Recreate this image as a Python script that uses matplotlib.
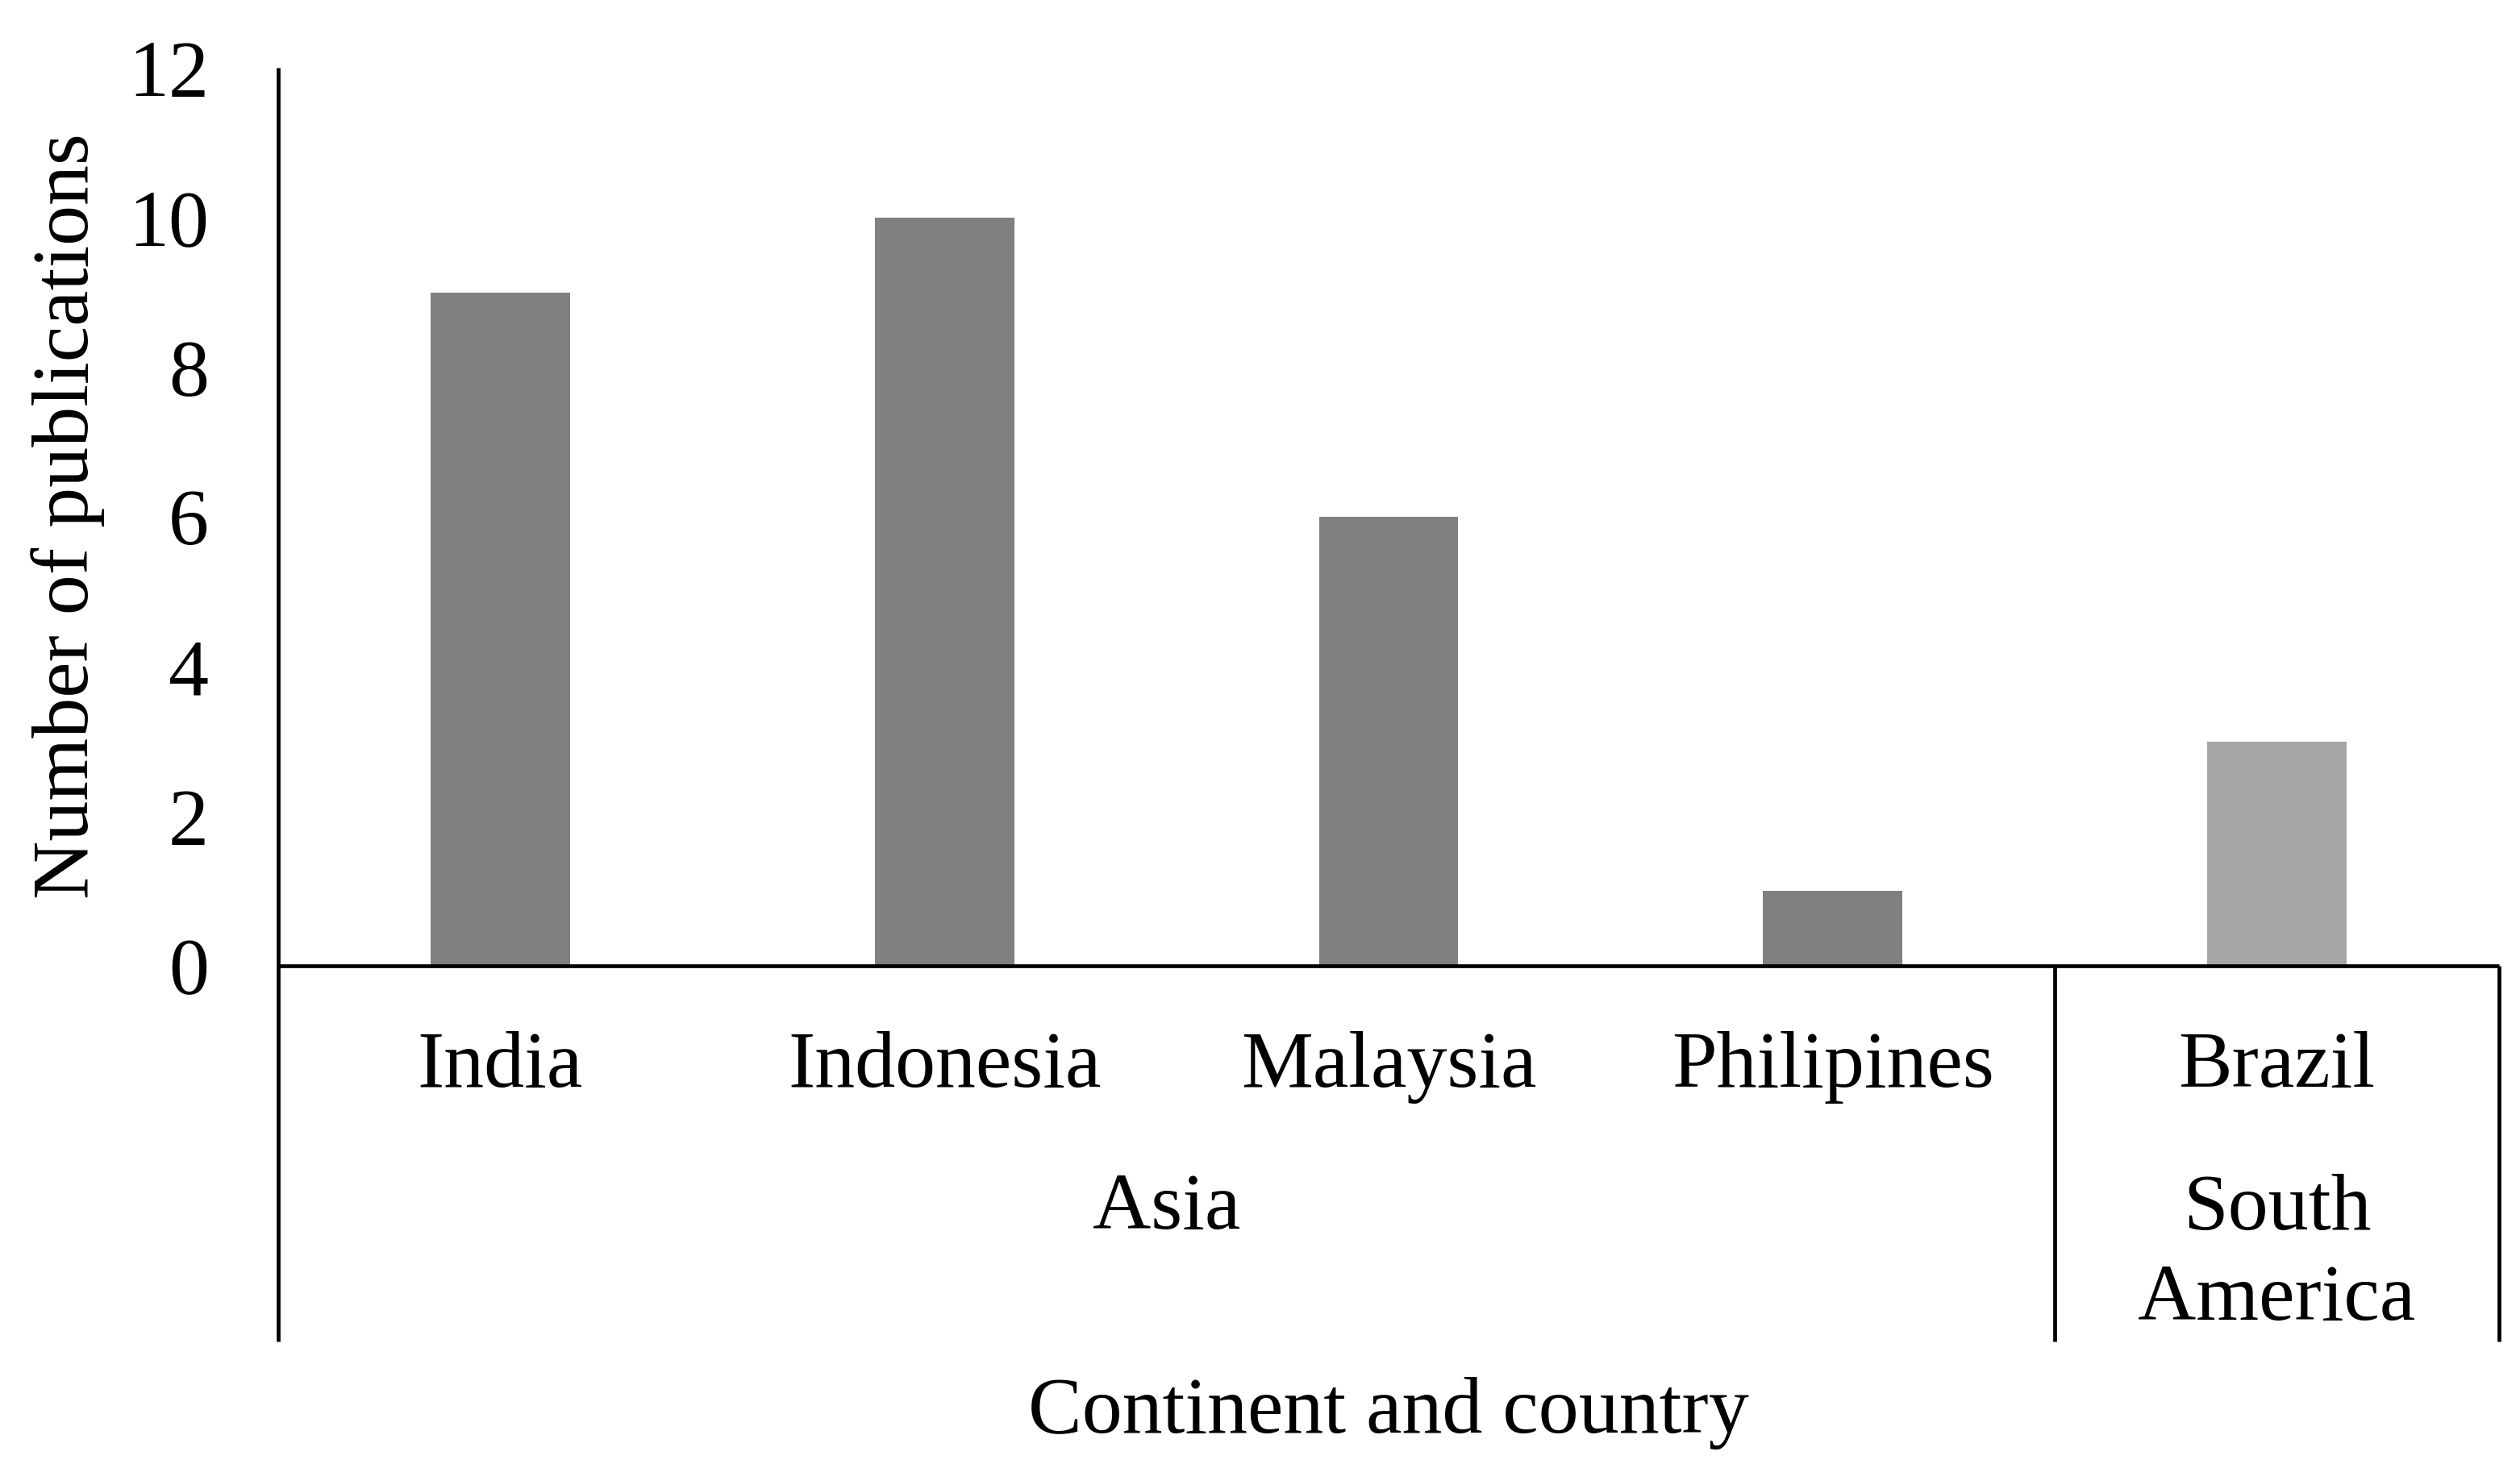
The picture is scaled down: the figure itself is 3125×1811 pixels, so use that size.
import matplotlib
matplotlib.use("Agg")
import matplotlib.pyplot as plt

countries = ["India", "Indonesia", "Malaysia", "Philipines", "Brazil"]
publications = [9, 10, 6, 1, 3]
continents = ["Asia", "South\nAmerica"]
continent_sizes = [4, 1]
continent_colors = ["#808080", "#A6A6A6"]
yticks = [0, 2, 4, 6, 8, 10, 12]

plt.rcParams['font.family'] = ['Liberation Serif', 'DejaVu Serif']
FS = 72

W, H = 3125, 1811
fig = plt.figure(figsize=(W / 100, H / 100), dpi=100)
ax = fig.add_axes([345 / W, 1 - 1198 / H, (3099 - 345) / W, (1198 - 84) / H])

colors = []
for c, n in zip(continent_colors, continent_sizes):
    colors += [c] * n
x = list(range(len(countries)))
ax.bar(x, publications, width=0.314, color=colors, zorder=2)

ax.set_xlim(-0.5, len(countries) - 0.5)
ax.set_ylim(0, 12)
ax.set_yticks(yticks)
ax.set_yticklabels([str(t) for t in yticks], fontsize=FS)
ax.tick_params(axis='y', length=0, pad=62)
ax.set_xticks([])
for s in ax.spines.values():
    s.set_visible(False)

lw = 3.4
tr = ax.get_xaxis_transform()
bot = -0.418
# axis lines
ax.plot([-0.5, -0.5], [1, bot], transform=tr, color='black', lw=lw, clip_on=False, solid_capstyle='butt')
ax.plot([-0.5, len(countries) - 0.5], [0, 0], transform=tr, color='black', lw=lw, clip_on=False, solid_capstyle='butt')
# group separators
edge = -0.5
for n in continent_sizes:
    edge += n
    ax.plot([edge, edge], [0, bot], transform=tr, color='black', lw=lw, clip_on=False, solid_capstyle='butt')

# country labels
for xi, name in zip(x, countries):
    ax.text(xi, -0.113, name, transform=tr, ha='center', va='center', fontsize=FS)

# continent labels
start = -0.5
for name, n in zip(continents, continent_sizes):
    center = start + n / 2
    yy = -0.271 if '\n' not in name else -0.322
    ax.text(center, yy, name, transform=tr, ha='center', va='center', fontsize=FS, linespacing=1.32)
    start += n

ax.text(0.5, -0.498, "Continent and country", transform=ax.transAxes, ha='center', va='center', fontsize=FS)
fig.text(84 / W, 1 - 640 / H, "Number of publications", rotation=90, ha='center', va='center', fontsize=FS)

fig.savefig("out.png", dpi=100)
